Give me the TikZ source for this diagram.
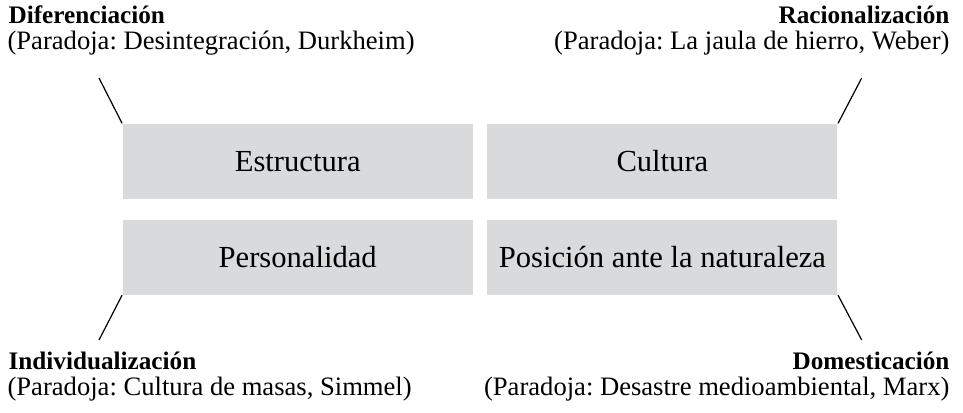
\documentclass[tikz,border=0pt]{standalone}
\usepackage{fontspec}
\setmainfont{Liberation Serif}
\usepackage{tikz}
\usetikzlibrary{positioning}

\definecolor{boxgray}{RGB}{217,218,220}
\frenchspacing

\begin{document}
\begin{tikzpicture}[x=0.5pt,y=-0.5pt,semithick]

   \tikzstyle{field}=[fill=boxgray,draw=none,minimum width=175pt,minimum height=37.35pt,inner sep=0pt,font=\fontsize{15.3}{18}\selectfont]
   \tikzstyle{title}=[inner sep=0pt,font=\fontsize{12.6}{15}\selectfont\bfseries]
   \tikzstyle{para}=[inner sep=0pt,font=\fontsize{13.3}{15}\selectfont]

   % page frame
   \useasboundingbox (0,0) rectangle (963,412);

   % the four fields
   \node[field] (estructura) at (297.7,161.3) {Estructura};
   \node[field] (cultura) at (662.4,161.3) {Cultura};
   \node[field] (personalidad) at (297.7,257.2) {Personalidad};
   \node[field] (naturaleza) at (662.4,257.2) {Posición ante la naturaleza};

   % corner labels
   \node[title,anchor=base west] (dif) at (8,23.3) {Diferenciación};
   \node[para,anchor=base west] (difp) at (7,49.5) {(Paradoja: Desintegración, Durkheim)};

   \node[title,anchor=base east] (rac) at (950,23.3) {Racionalización};
   \node[para,anchor=base east] (racp) at (950,49.5) {(Paradoja: La jaula de hierro, Weber)};

   \node[title,anchor=base west] (ind) at (8,369) {Individualización};
   \node[para,anchor=base west] (indp) at (7,395.5) {(Paradoja: Cultura de masas, Simmel)};

   \node[title,anchor=base east] (dom) at (950,369) {Domesticación};
   \node[para,anchor=base east] (domp) at (950,395.5) {(Paradoja: Desastre medioambiental, Marx)};

   % ends of the pointers
   \coordinate (difc) at (99,78);
   \coordinate (racc) at (861.7,78);
   \coordinate (indc) at (99,340);
   \coordinate (domc) at (861.7,340);

   \draw (estructura.north west) -- (difc);
   \draw (cultura.north east) -- (racc);
   \draw (personalidad.south west) -- (indc);
   \draw (naturaleza.south east) -- (domc);

\end{tikzpicture}
\end{document}
